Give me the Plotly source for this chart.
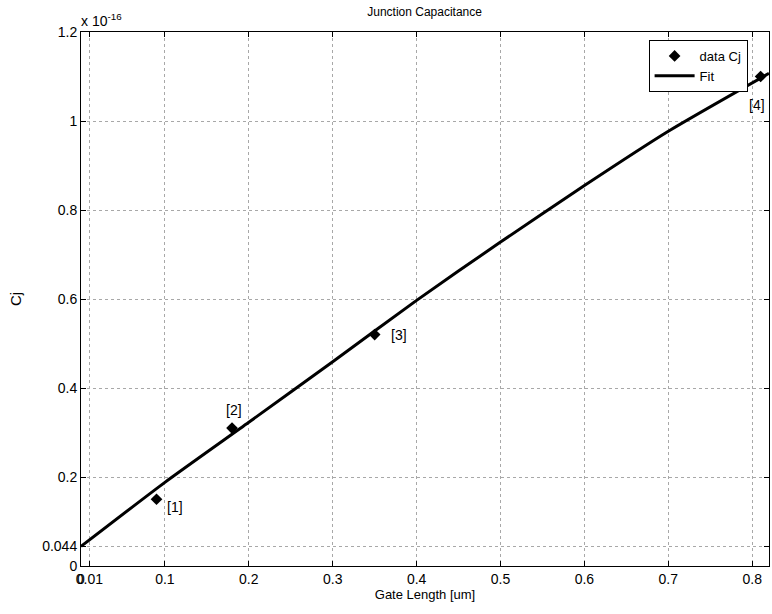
import plotly.graph_objects as go

# Measured junction capacitance (units of 1e-16 F) vs gate length (um)
gate_length = [0.09, 0.18, 0.35, 0.81]
cj_data = [0.15, 0.31, 0.52, 1.10]
point_labels = ["[1]", "[2]", "[3]", "[4]"]

# Fitted curve
fit_x = [0.0, 0.1, 0.2, 0.3, 0.4, 0.5, 0.6, 0.7, 0.82]
fit_y = [0.044, 0.188, 0.323, 0.459, 0.597, 0.728, 0.855, 0.977, 1.107]

x_ticks = [0, 0.01, 0.1, 0.2, 0.3, 0.4, 0.5, 0.6, 0.7, 0.8]
x_tick_text = ["0", "0.01", "0.1", "0.2", "0.3", "0.4", "0.5", "0.6", "0.7", "0.8"]
y_ticks = [0, 0.044, 0.2, 0.4, 0.6, 0.8, 1.0, 1.2]
y_tick_text = ["0", "0.044", "0.2", "0.4", "0.6", "0.8", "1", "1.2"]

# label offsets (pixels) for the point annotations
label_shift = [(18, -8), (2, 18), (24, 0), (-4, -28)]

font = "Liberation Sans, Arial, sans-serif"

fig = go.Figure()
fig.add_trace(go.Scatter(
    x=gate_length, y=cj_data, mode="markers", name="data Cj",
    marker=dict(symbol="diamond", size=9, color="black"),
))
fig.add_trace(go.Scatter(
    x=fit_x, y=fit_y, mode="lines", name="Fit",
    line=dict(color="black", width=3, shape="spline", smoothing=0.6),
))

for x, y, t, (dx, dy) in zip(gate_length, cj_data, point_labels, label_shift):
    fig.add_annotation(x=x, y=y, text=t, showarrow=False, xshift=dx, yshift=dy,
                       font=dict(family=font, size=14, color="black"))

fig.add_annotation(xref="paper", yref="paper", x=0, y=1.0, xanchor="left", yanchor="bottom",
                   text="x 10<sup>-16</sup>", showarrow=False, yshift=1, xshift=-2,
                   font=dict(family=font, size=14, color="black"))

axis_common = dict(
    showline=True, linecolor="black", linewidth=1, mirror="ticks",
    ticks="inside", ticklen=5, tickcolor="black",
    showgrid=True, gridcolor="#a8a8a8", griddash="dot", gridwidth=1,
    zeroline=False, tickfont=dict(family=font, size=14, color="black"),
)

fig.update_xaxes(range=[0, 0.82], tickvals=x_ticks, ticktext=x_tick_text, tickangle=0,
                 title=dict(text="Gate Length [um]", standoff=4,
                            font=dict(family=font, size=13, color="black")),
                 **axis_common)
fig.update_yaxes(range=[0, 1.2], tickvals=y_ticks, ticktext=y_tick_text,
                 title=dict(text="Cj", standoff=16,
                            font=dict(family=font, size=15, color="black")),
                 **axis_common)

fig.update_layout(
    width=772, height=614,
    margin=dict(l=81, r=3, t=32, b=48),
    paper_bgcolor="white", plot_bgcolor="white",
    title=dict(text="Junction Capacitance", x=0.55, xanchor="center", y=0.987, yanchor="top",
               font=dict(family=font, size=12, color="black")),
    legend=dict(x=0.825, y=0.985, xanchor="left", yanchor="top",
                bgcolor="white", bordercolor="black", borderwidth=1,
                font=dict(family=font, size=13, color="black"),
                tracegroupgap=0, itemwidth=40),
    showlegend=True,
)

fig.write_html("out.html")
